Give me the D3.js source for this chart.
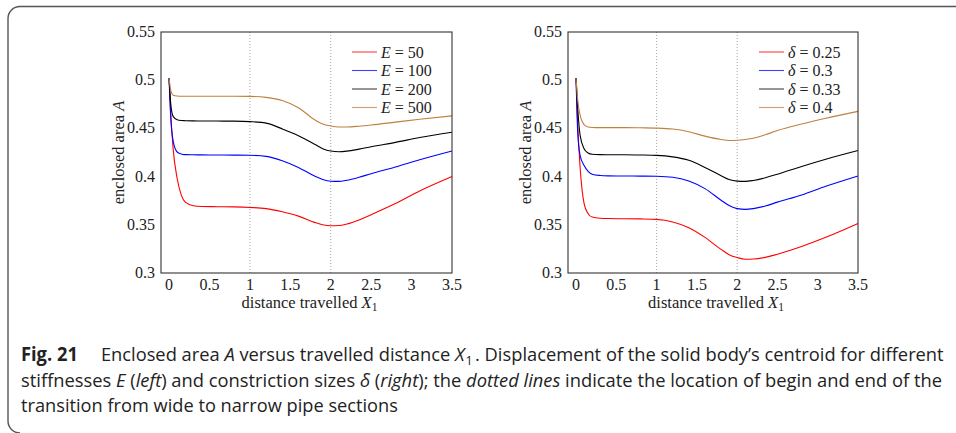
<!DOCTYPE html>
<html>
<head>
<meta charset="utf-8">
<script src="https://cdn.jsdelivr.net/npm/d3@7"></script>
<style>
  html, body { margin: 0; padding: 0; background: #fff; }
  svg { display: block; }
  .tick-label { font-family: "Liberation Serif", "DejaVu Serif", serif; font-size: 16px; fill: #222; }
  .axis-title { font-family: "Liberation Serif", "DejaVu Serif", serif; font-size: 16.5px; fill: #222; }
  .legend-text { font-family: "Liberation Serif", "DejaVu Serif", serif; font-size: 16px; fill: #222; }
  .caption { font-family: "Open Sans", "Noto Sans", sans-serif; font-size: 19px; fill: #222; }
</style>
</head>
<body>
<svg id="fig" width="956" height="433"></svg>
<script>
// Travelled distance X1 at which the enclosed area was sampled
const distance = [0, 0.02, 0.05, 0.1, 0.15, 0.2, 0.3, 0.4, 0.6, 0.8, 1.0, 1.2, 1.4, 1.6, 1.8, 1.9, 2.0, 2.1, 2.2, 2.35, 2.5, 2.8, 3.1, 3.5];

// Left panel: enclosed area A for different stiffnesses E
const stiffnessLabels = ["50", "100", "200", "500"];
const areaE50  = [0.502, 0.466, 0.429, 0.398, 0.381, 0.3735, 0.3698, 0.3690, 0.3688, 0.3686, 0.3680, 0.3668, 0.3635, 0.3590, 0.3525, 0.3500, 0.3490, 0.3492, 0.3508, 0.3550, 0.3605, 0.3720, 0.3850, 0.4000];
const areaE100 = [0.502, 0.462, 0.437, 0.4255, 0.4235, 0.4228, 0.4226, 0.4225, 0.4224, 0.4223, 0.4221, 0.4210, 0.4165, 0.4095, 0.4005, 0.3970, 0.3952, 0.3950, 0.3962, 0.3993, 0.4030, 0.4100, 0.4175, 0.4266];
const areaE200 = [0.502, 0.476, 0.4625, 0.4590, 0.4582, 0.4580, 0.4578, 0.4577, 0.4576, 0.4575, 0.4570, 0.4555, 0.4495, 0.4425, 0.4335, 0.4290, 0.4265, 0.4258, 0.4264, 0.4285, 0.4310, 0.4355, 0.4405, 0.4460];
const areaE500 = [0.502, 0.490, 0.4845, 0.4836, 0.4834, 0.4834, 0.4834, 0.4834, 0.4834, 0.4834, 0.4832, 0.4822, 0.4790, 0.4715, 0.4590, 0.4545, 0.4525, 0.4515, 0.4515, 0.4523, 0.4535, 0.4565, 0.4595, 0.4630];

// Right panel: enclosed area A for different constriction sizes delta
const deltaLabels = ["0.25", "0.3", "0.33", "0.4"];
const areaD025 = [0.502, 0.455, 0.410, 0.372, 0.3615, 0.3580, 0.3568, 0.3565, 0.3563, 0.3561, 0.3556, 0.3530, 0.3470, 0.3370, 0.3245, 0.3190, 0.3160, 0.3143, 0.3145, 0.3162, 0.3195, 0.3275, 0.3370, 0.3514];
const areaD030 = [0.502, 0.447, 0.422, 0.4115, 0.4055, 0.4025, 0.4012, 0.4008, 0.4006, 0.4005, 0.4003, 0.3993, 0.3955, 0.3875, 0.3755, 0.3700, 0.3668, 0.3660, 0.3668, 0.3695, 0.3735, 0.3810, 0.3900, 0.4007];
const areaD033 = [0.502, 0.472, 0.443, 0.4290, 0.4245, 0.4232, 0.4228, 0.4227, 0.4226, 0.4224, 0.4220, 0.4205, 0.4170, 0.4095, 0.4010, 0.3970, 0.3953, 0.3950, 0.3960, 0.3988, 0.4025, 0.4105, 0.4180, 0.4270];
const areaD040 = [0.502, 0.480, 0.464, 0.4540, 0.4515, 0.4510, 0.4508, 0.4508, 0.4508, 0.4506, 0.4503, 0.4493, 0.4465, 0.4420, 0.4385, 0.4375, 0.4377, 0.4385, 0.4398, 0.4435, 0.4478, 0.4545, 0.4605, 0.4677];

// Axis ticks and transition markers
const xTicks = [0, 0.5, 1, 1.5, 2, 2.5, 3, 3.5];
const xTickLabels = ["0", "0.5", "1", "1.5", "2", "2.5", "3", "3.5"];
const yTicks = [0.3, 0.35, 0.4, 0.45, 0.5, 0.55];
const yTickLabels = ["0.3", "0.35", "0.4", "0.45", "0.5", "0.55"];
const transitionMarks = [1, 2];

const seriesColors = ["#ff0000", "#0000ff", "#000000", "#bf8040"];

const svg = d3.select("#fig");

// Rounded figure frame
svg.append("path")
  .attr("d", "M957,6.5 H20 A12,12 0 0 0 8,18.5 V421 A12,12 0 0 0 20,433")
  .attr("fill", "none")
  .attr("stroke", "#555")
  .attr("stroke-width", 1.4);

function drawPanel(opts) {
  const { left, right, top, bottom, series, symbol, labels, legendX, titleX } = opts;
  const x = d3.scaleLinear().domain([-0.1, 3.5]).range([left, right]);
  const y = d3.scaleLinear().domain([0.3, 0.55]).range([bottom, top]);
  const g = svg.append("g");

  // dotted transition lines
  g.selectAll("line.mark").data(transitionMarks).join("line")
    .attr("x1", d => x(d)).attr("x2", d => x(d))
    .attr("y1", top).attr("y2", bottom)
    .attr("stroke", "#999").attr("stroke-width", 0.9)
    .attr("stroke-dasharray", "1,2");

  const line = d3.line()
    .x((d, i) => x(distance[i]))
    .y(d => y(d))
    .curve(d3.curveMonotoneX);

  g.selectAll("path.series").data(series).join("path")
    .attr("d", d => line(d))
    .attr("fill", "none")
    .attr("stroke", (d, i) => seriesColors[i])
    .attr("stroke-width", 1.1);

  // axis box
  g.append("rect")
    .attr("x", left).attr("y", top)
    .attr("width", right - left).attr("height", bottom - top)
    .attr("fill", "none").attr("stroke", "#333").attr("stroke-width", 1.1);

  // tick labels
  g.selectAll("text.xt").data(xTicks).join("text")
    .attr("class", "tick-label")
    .attr("x", d => x(d)).attr("y", bottom + 17)
    .attr("text-anchor", "middle")
    .text((d, i) => xTickLabels[i]);

  g.selectAll("text.yt").data(yTicks).join("text")
    .attr("class", "tick-label")
    .attr("x", left - 6).attr("y", d => y(d) + 5)
    .attr("text-anchor", "end")
    .text((d, i) => yTickLabels[i]);

  // x axis title
  const xt = g.append("text").attr("class", "axis-title")
    .attr("x", (left + right) / 2 + 3).attr("y", bottom + 35)
    .attr("text-anchor", "middle");
  xt.append("tspan").text("distance travelled ");
  xt.append("tspan").attr("font-style", "italic").text("X");
  xt.append("tspan").attr("font-size", "11.5px").attr("dy", 3).text("1");

  // y axis title
  const yt = g.append("text").attr("class", "axis-title")
    .attr("transform", `translate(${titleX},${(top + bottom) / 2}) rotate(-90)`)
    .attr("text-anchor", "middle");
  yt.append("tspan").text("enclosed area ");
  yt.append("tspan").attr("font-style", "italic").text("A");

  // legend
  const rowY = [52, 70.5, 89, 107.5];
  const lg = g.append("g");
  labels.forEach((lab, i) => {
    lg.append("line")
      .attr("x1", legendX).attr("x2", legendX + 25)
      .attr("y1", rowY[i]).attr("y2", rowY[i])
      .attr("stroke", seriesColors[i]).attr("stroke-width", 1.1).attr("opacity", 0.75);
    const t = lg.append("text").attr("class", "legend-text")
      .attr("x", legendX + 29).attr("y", rowY[i] + 5.5);
    t.append("tspan").attr("font-style", "italic").text(symbol);
    t.append("tspan").text(" = " + lab);
  });
}

drawPanel({
  left: 161, right: 452, top: 32, bottom: 273,
  series: [areaE50, areaE100, areaE200, areaE500],
  symbol: "E", labels: stiffnessLabels, legendX: 352, titleX: 124
});

drawPanel({
  left: 568, right: 858, top: 32, bottom: 273,
  series: [areaD025, areaD030, areaD033, areaD040],
  symbol: "δ", labels: deltaLabels, legendX: 759, titleX: 531
});

// Caption: each line is laid out naturally, then squeezed horizontally to its column width
const captionLines = [
  { y: 361, width: 920, parts: [
    { t: "Fig. 21", w: "bold" },
    { t: "\u2003 Enclosed area " }, { t: "A", s: "italic" },
    { t: " versus travelled distance " }, { t: "X", s: "italic" }, { t: "1", sub: true },
    { t: ". Displacement of the solid body\u2019s centroid for different" }
  ]},
  { y: 387, width: 922, parts: [
    { t: "stiffnesses " }, { t: "E", s: "italic" }, { t: " (" }, { t: "left", s: "italic" },
    { t: ") and constriction sizes " }, { t: "δ", s: "italic" }, { t: " (" }, { t: "right", s: "italic" },
    { t: "); the " }, { t: "dotted lines", s: "italic" },
    { t: " indicate the location of begin and end of the" }
  ]},
  { y: 412, width: 377, parts: [
    { t: "transition from wide to narrow pipe sections" }
  ]}
];

captionLines.forEach(line => {
  const t = svg.append("text").attr("class", "caption")
    .attr("x", 0).attr("y", 0)
    .attr("xml:space", "preserve");
  let afterSub = false;
  line.parts.forEach(p => {
    const sp = t.append("tspan").text(p.t);
    if (p.w) sp.attr("font-weight", p.w);
    if (p.s) sp.attr("font-style", p.s);
    if (p.sub) sp.attr("font-size", "13px").attr("dy", 3.5).attr("dx", 1);
    else if (afterSub) sp.attr("dy", -3.5).attr("dx", 2.5);
    afterSub = !!p.sub;
  });
  const natural = t.node().getComputedTextLength();
  const sx = line.width / natural;
  t.attr("transform", `translate(21,${line.y}) scale(${sx},1)`);
});
</script>
</body>
</html>
